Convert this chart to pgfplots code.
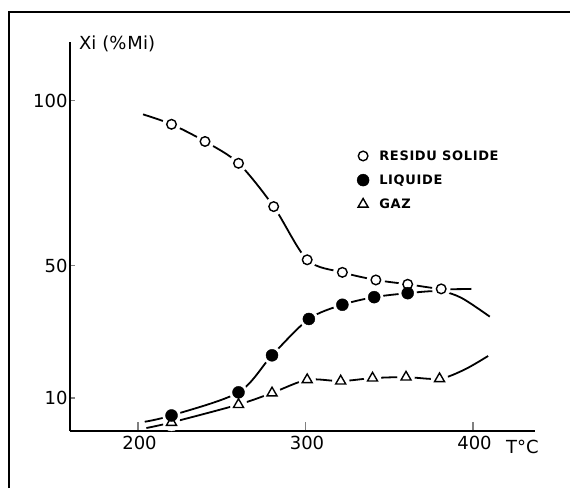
\documentclass[border=0pt]{standalone}
\usepackage{fontspec}
\setmainfont{DejaVu Sans}
\newfontfamily\legfont{DejaVu Sans}[LetterSpace=5]
\usepackage{pgfplots}
\pgfplotsset{compat=1.18}

\begin{document}
\begin{tikzpicture}[x=1pt,y=1pt]
\useasboundingbox (0,0) rectangle (570,488);
% page frame
\draw[line width=2.5pt] (9,0) -- (9,476) -- (570,476);
\begin{axis}[
    at={(70pt,57pt)}, anchor=south west,
    scale only axis, width=465pt, height=389pt,
    xmin=159.4, xmax=437, ymin=0, ymax=117.7,
    axis lines=left,
    axis line style={-, line width=1.6pt},
    xtick={200,300,400}, ytick={10,50,100},
    tick align=inside,
    xtick style={line width=1.3pt, /pgfplots/major tick length=9pt},
    ytick style={line width=1.3pt, /pgfplots/major tick length=5pt},
    ticklabel style={font=\fontsize{18}{21}\selectfont},
    /pgf/number format/assume math mode=true,
    xticklabel style={yshift=-2pt, xshift=1.5pt},
    yticklabel style={xshift=1pt},
    clip=false,
    legend style={draw=none, fill=none, inner sep=0pt,
        at={(0.617,0.727)}, anchor=north west,
        font=\fontsize{13}{15}\legfont\bfseries,
        row sep=9pt},
    legend cell align=left,
    legend image code/.code={\path (0pt,-3pt) (19pt,3pt);
        \draw[mark repeat=2,mark phase=2,#1] plot coordinates {(0pt,0pt)(5pt,0pt)(10pt,0pt)};},
    halo/.style={forget plot, only marks, mark=*, color=white,
        mark options={draw=white, fill=white}},
]
% curves
\addplot[forget plot, black, line width=1.8pt, smooth] coordinates {
    (203,95.8) (220,92.8) (240,87.6) (260,81) (281,67.9) (301,51.8)
    (322,48) (342,45.7) (361,44.4) (381,43) (399,43)};
\addplot[forget plot, black, line width=1.8pt, smooth] coordinates {
    (204,2.8) (220,4.7) (260,11.7) (280,22.9) (302,33.9) (322,38.2)
    (341,40.5) (361,41.7) (380,42.3) (393,40.3) (410,34.6)};
\addplot[forget plot, black, line width=1.8pt, smooth] coordinates {
    (205,0.9) (220,2.6) (260,8.0) (280,11.5) (301,15.5) (321,15.1)
    (340,16.0) (360,16.3) (380,15.8) (395,18.6) (409,22.7)};
% white gaps round the marks
\addplot[halo, mark size=9pt] coordinates {
    (220,92.8) (240,87.6) (260,81) (281,67.9) (301,51.8)
    (322,48) (342,45.7) (361,44.4) (381,43)};
\addplot[halo, mark size=9pt] coordinates {
    (220,4.7) (260,11.7) (280,22.9) (302,33.9) (322,38.2) (341,40.5) (361,41.7)};
\addplot[halo, mark size=8.5pt] coordinates {
    (220,2.6) (260,8.0) (280,11.5) (301,15.5) (321,15.1) (340,16.0) (360,16.3) (380,15.8)};
% marks
\addplot[only marks, mark=o, mark size=4.8pt, mark options={draw=black, fill=white, line width=1.4pt}] coordinates {
    (220,92.8) (240,87.6) (260,81) (281,67.9) (301,51.8)
    (322,48) (342,45.7) (361,44.4) (381,43)};
\addlegendentry{RESIDU SOLIDE}
\addplot[only marks, mark=*, mark size=6pt, mark options={draw=black, fill=black}] coordinates {
    (220,4.7) (260,11.7) (280,22.9) (302,33.9) (322,38.2) (341,40.5) (361,41.7)};
\addlegendentry{LIQUIDE}
\addplot[only marks, mark=triangle, mark size=5.8pt, mark options={draw=black, fill=white, line width=1.4pt}] coordinates {
    (220,2.6) (260,8.0) (280,11.5) (301,15.5) (321,15.1) (340,16.0) (360,16.3) (380,15.8)};
\addlegendentry{GAZ}
\node[anchor=west, inner sep=0pt, font=\fontsize{18}{21}\selectfont] at (rel axis cs:0.019,0.995) {Xi\hspace{6pt}(\%\hspace{1pt}Mi)};
\node[anchor=west, inner sep=0pt, font=\fontsize{18}{21}\selectfont] at (rel axis cs:0.9376,-0.041) {T°C};
\end{axis}
\end{tikzpicture}
\end{document}
